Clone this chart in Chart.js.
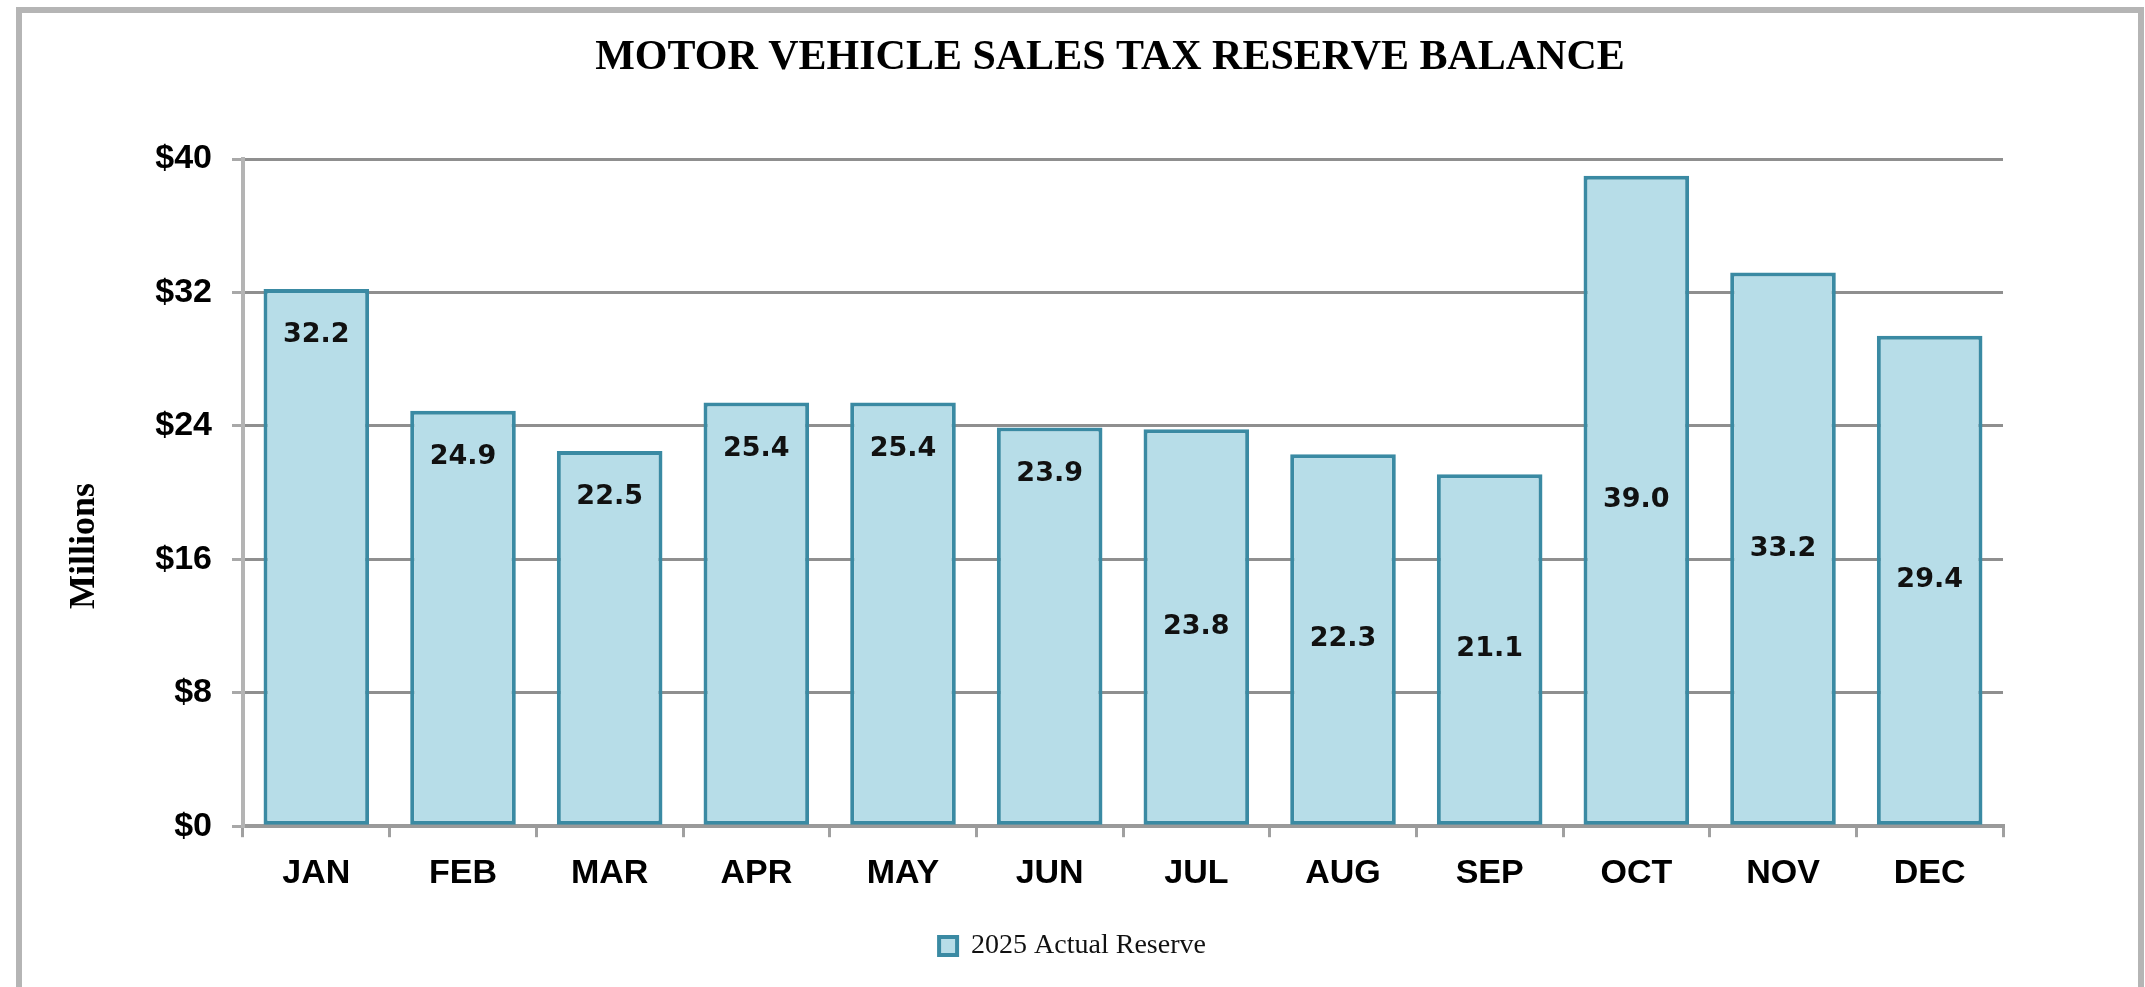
<!DOCTYPE html>
<html>
<head>
<meta charset="utf-8">
<title>Motor Vehicle Sales Tax Reserve Balance</title>
<script src="https://cdn.jsdelivr.net/npm/chart.js@4.4.1/dist/chart.umd.min.js"></script>
<style>
    html, body { margin: 0; padding: 0; background: #ffffff; }
    .frame {
        position: absolute;
        left: 16px; top: 7px;
        width: 2128px; height: 1000px;
        box-sizing: border-box;
        border: 6px solid #b5b5b5;
        border-bottom: none;
    }
    .chart-box {
        position: absolute;
        left: 0; top: 0;
        width: 2145px; height: 987px;
    }
</style>
</head>
<body>
<div class="frame"></div>
<div class="chart-box"><canvas id="reserveChart"></canvas></div>
<script>
// chart data
const months = ['JAN', 'FEB', 'MAR', 'APR', 'MAY', 'JUN', 'JUL', 'AUG', 'SEP', 'OCT', 'NOV', 'DEC'];
const actualReserve = [32.2, 24.9, 22.5, 25.4, 25.4, 23.9, 23.8, 22.3, 21.1, 39.0, 33.2, 29.4];
const yTicks = [0, 8, 16, 24, 32, 40];
const seriesName = '2025 Actual Reserve';
const chartTitle = 'MOTOR VEHICLE SALES TAX RESERVE BALANCE';
const axisTitle = 'Millions';

// where each value label sits inside its bar
const labelAnchor = ['end', 'end', 'end', 'end', 'end', 'end',
                     'center', 'center', 'center', 'center', 'center', 'center'];

const SERIF = '"Liberation Serif", "Times New Roman", serif';
const SANS = '"Liberation Sans", Arial, sans-serif';

// value labels drawn inside the bars
const barLabels = {
    id: 'barLabels',
    afterDatasetsDraw(chart) {
        const ctx = chart.ctx;
        const meta = chart.getDatasetMeta(0);
        ctx.save();
        ctx.font = 'bold 27px "DejaVu Sans", sans-serif';
        ctx.fillStyle = '#111111';
        ctx.textAlign = 'center';
        ctx.textBaseline = 'middle';
        meta.data.forEach((bar, i) => {
            const v = chart.data.datasets[0].data[i];
            let y;
            if (labelAnchor[i] === 'end') {
                y = bar.y + 46;
            } else {
                y = (bar.y + bar.base) / 2;
            }
            ctx.fillText(v.toFixed(1), bar.x, y);
        });
        ctx.restore();
    }
};

// title and rotated axis title; the original has both a little off centre
const headings = {
    id: 'headings',
    afterDraw(chart) {
        const ctx = chart.ctx;
        const area = chart.chartArea;
        ctx.save();
        ctx.fillStyle = '#000000';
        ctx.textAlign = 'center';
        ctx.textBaseline = 'middle';

        ctx.font = 'bold 42px ' + SERIF;
        ctx.fillText(chartTitle, 1110, 58);

        ctx.translate(85, area.top + (area.bottom - area.top) * 0.58);
        ctx.rotate(-Math.PI / 2);
        ctx.font = 'bold 36px ' + SERIF;
        ctx.fillText(axisTitle, 0, 0);
        ctx.restore();
    }
};

const ctx = document.getElementById('reserveChart').getContext('2d');
new Chart(ctx, {
    type: 'bar',
    data: {
        labels: months,
        datasets: [{
            label: seriesName,
            data: actualReserve,
            backgroundColor: '#b7dde8',
            borderColor: '#3a8aa3',
            borderWidth: 4,
            borderSkipped: false,
            categoryPercentage: 1.0,
            barPercentage: 0.72
        }]
    },
    options: {
        responsive: true,
        maintainAspectRatio: false,
        animation: false,
        layout: {
            padding: { top: 159, left: 0, right: 0, bottom: 17 }
        },
        scales: {
            x: {
                grid: {
                    offset: true,
                    drawOnChartArea: false,
                    drawTicks: true,
                    tickLength: 11,
                    color: '#a0a0a0',
                    lineWidth: 3
                },
                border: { display: true, color: '#9a9a9a', width: 4 },
                ticks: {
                    color: '#000000',
                    padding: 16,
                    font: { family: SANS, size: 34, weight: 'bold' }
                },
                afterFit: (scale) => {
                    scale.height = scale.height + 12;
                }
            },
            y: {
                min: 0,
                max: 40,
                afterBuildTicks: (scale) => {
                    scale.ticks = yTicks.map(v => ({ value: v }));
                },
                afterFit: (scale) => {
                    scale.width = 243;
                },
                grid: {
                    color: '#8f8f8f',
                    tickColor: '#a8a8a8',
                    lineWidth: 3,
                    tickLength: 11
                },
                border: { display: true, color: '#b4b4b4', width: 4 },
                ticks: {
                    color: '#000000',
                    padding: 20,
                    font: { family: SANS, size: 34, weight: 'bold' },
                    callback: (v) => '$' + v
                }
            },
            // empty right axis, only keeps the plot clear of the frame
            margin: {
                position: 'right',
                display: true,
                grid: { display: false },
                border: { display: false },
                ticks: { display: false },
                afterFit: (scale) => {
                    scale.width = 142;
                }
            }
        },
        plugins: {
            title: { display: false },
            legend: {
                display: true,
                position: 'bottom',
                labels: {
                    color: '#111111',
                    boxWidth: 18,
                    boxHeight: 18,
                    padding: 10,
                    font: { family: SERIF, size: 28 }
                }
            },
            tooltip: { enabled: false }
        }
    },
    plugins: [barLabels, headings]
});
</script>
</body>
</html>
